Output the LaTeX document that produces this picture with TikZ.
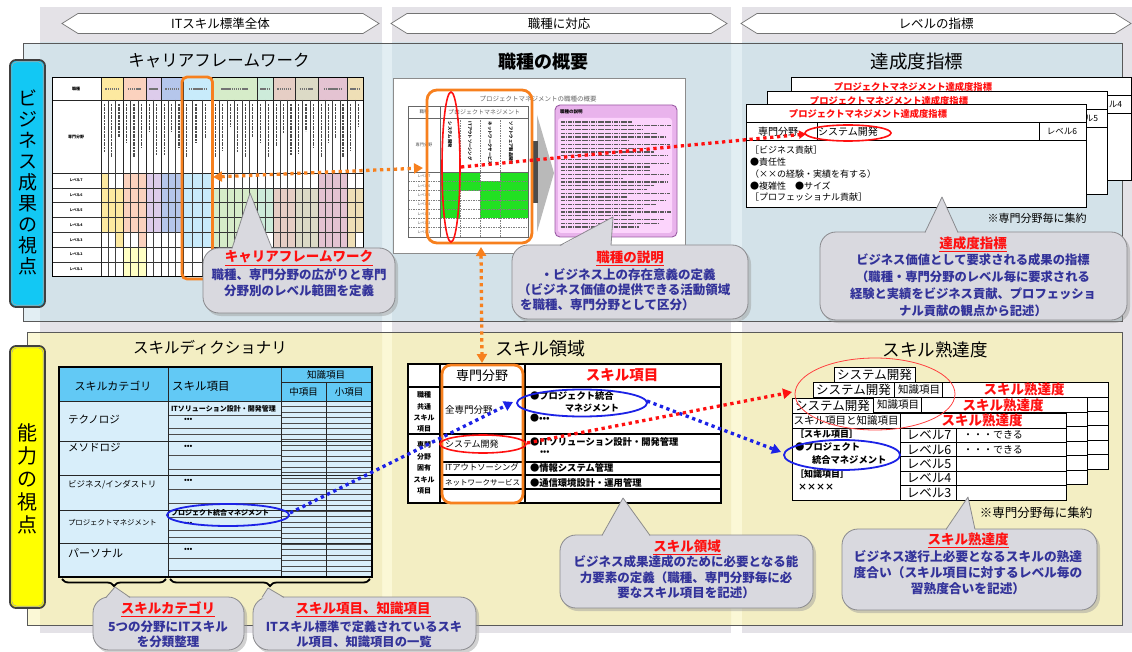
\documentclass[tikz,border=0pt]{standalone}
\usepackage{fontspec}
\setmainfont{Noto Sans CJK JP}
\usetikzlibrary{arrows.meta,decorations.pathreplacing,calc}
\definecolor{colgray}{HTML}{E4E2E7}
\definecolor{pblueL}{HTML}{E2EEF3}
\definecolor{pblueD}{HTML}{D3E2E9}
\definecolor{pyelL}{HTML}{FBF8D6}
\definecolor{pyelD}{HTML}{F3EEC3}
\definecolor{labcyan}{HTML}{12C8F4}
\definecolor{labyel}{HTML}{FFFF00}
\definecolor{calfill}{HTML}{D9D9DF}
\definecolor{calline}{HTML}{8A8A8E}
\definecolor{caltext}{HTML}{33339A}
\definecolor{orng}{HTML}{F7801E}
\definecolor{rd}{HTML}{FF1010}
\definecolor{bl}{HTML}{1C22E6}
\definecolor{grn}{HTML}{22E022}
\definecolor{pinkout}{HTML}{E9B3EC}
\definecolor{pinkin}{HTML}{FCD4FC}
\definecolor{purp}{HTML}{9A5BA3}
\definecolor{hdrblue}{HTML}{62C9F5}
\definecolor{bodyblue}{HTML}{D8EEFA}
\definecolor{cyel}{HTML}{FDE9A0}
\definecolor{csal}{HTML}{FBD2BE}
\definecolor{clav}{HTML}{DDCCEB}
\definecolor{cblu}{HTML}{B5C6EB}
\definecolor{clbl}{HTML}{C8EBFB}
\definecolor{cgrn}{HTML}{D6ECC9}
\definecolor{ctea}{HTML}{CDEBDA}
\definecolor{cbrn}{HTML}{E6CEC5}
\definecolor{ckha}{HTML}{DCDAC6}
\definecolor{cmau}{HTML}{E4C3D2}
\definecolor{ctan}{HTML}{EFDFB6}
\definecolor{cly}{HTML}{FFFFC4}
\newcommand{\fsz}[1]{\fontsize{#1}{#1}\selectfont}
\tikzset{
  every node/.style={inner sep=0pt,outer sep=0pt},
  ttl/.style={font=\fsz{17}},
  ctext/.style={align=center,text=caltext,font=\fontsize{12.5}{15.5}\selectfont\bfseries},
  ctitle/.style={text=rd,font=\fsz{13.5}\bfseries},
  dotline/.style={line width=3.3pt,dash pattern=on 3.3pt off 3.6pt},
  tipT/.style={-{Triangle[length=9pt,width=10pt]}},
}
% callout: x1 y1 x2 y2 tipx tipy basex1 basex2
\newcommand{\bubble}[8]{%
  \fill[black!40,opacity=.45,rounded corners=16] (#1+2,#2+3) rectangle (#3+3,#4+3);
  \filldraw[fill=calfill,draw=calline,line width=.8,rounded corners=16] (#1,#2) rectangle (#3,#4);
  \fill[calfill] (#7,#2+1.5) -- (#5,#6) -- (#8,#2+1.5) -- cycle;
  \draw[calline,line width=.8,line join=round] (#7,#2+.4) -- (#5,#6) -- (#8,#2+.4);
}
% chevron header: name x1 x2 y text
\newcommand{\chev}[5]{%
  \filldraw[fill=white,draw=black!55,line width=.7] (#2,#4) -- (#2+16,#4-10) -- (#3-16,#4-10) -- (#3,#4) -- (#3-16,#4+10) -- (#2+16,#4+10) -- cycle;
  \node[font=\fsz{12.5}] (#1) at ({(#2+#3)/2},#4) {#5};
}
% achievement card: name x0 y0 level
\newcommand{\tcard}[4]{%
  \filldraw[fill=white,draw=black,line width=.9] (#2,#3) rectangle (#2+340,#3+103);
  \draw[black,line width=.9] (#2,#3+18) -- (#2+340,#3+18) (#2,#3+36) -- (#2+340,#3+36) (#2+71,#3+18) -- (#2+71,#3+36) (#2+293,#3+18) -- (#2+293,#3+36);
  \node[text=rd,font=\fsz{9.3}\bfseries] (#1t) at (#2+122,#3+9.5) {プロジェクトマネジメント達成度指標};
  \node[font=\fsz{8.5}] (#1l) at (#2+316,#3+27.5) {#4};
}
% skill proficiency card: name x0 y0 anchor xoff headertext
\newcommand{\scard}[6]{%
  \filldraw[fill=white,draw=black,line width=.9] (#2,#3+15) rectangle (#2+274,#3+102);
  \draw[black,line width=.9] (#2,#3+30) -- (#2+274,#3+30) (#2+108,#3+15) -- (#2+108,#3+102) (#2+164,#3+30) -- (#2+164,#3+102);
  \foreach \kk in {1,...,4} \draw[black,line width=.9] (#2+108,{#3+30+14.4*\kk}) -- (#2+274,{#3+30+14.4*\kk});
  \node[font=\fsz{10.5},anchor=#4] (#1h) at (#2+#5,#3+22.5) {#6};
  \node[text=rd,font=\fsz{13.5}\bfseries] (#1r) at (#2+190,#3+22.5) {スキル熟達度};
  \filldraw[fill=white,draw=black,line width=.9] (#2,#3) rectangle (#2+81,#3+15);
  \node[font=\fsz{12.5}] (#1g) at (#2+40.5,#3+7.5) {システム開発};
}
\begin{document}
\begin{tikzpicture}[x=1pt,y=-1pt]
\useasboundingbox (0,0) rectangle (1132,652);
\fill[white] (0,0) rectangle (1132,652);
% column backgrounds
\fill[colgray] (40,7) rectangle (382,633);
\fill[colgray] (392,7) rectangle (731,633);
\fill[colgray] (742,7) rectangle (1132,633);
% headers
\chev{h1}{62}{379}{23.5}{ITスキル標準全体}
\chev{h2}{391}{727}{23.5}{職種に対応}
\chev{h3}{741}{1131}{23.5}{レベルの指標}
% top panel
\fill[pblueL] (23,43) rectangle (1122,321);
\begin{scope}
  \clip (23,43) rectangle (1122,321);
  \fill[pblueD] (40,0) rectangle (382,700) (392,0) rectangle (731,700) (742,0) rectangle (1132,700);
\end{scope}
\draw[black!65,line width=.8] (23,43) rectangle (1122,321);
% bottom panel
\fill[pyelL] (27,332) rectangle (1122,625);
\begin{scope}
  \clip (27,332) rectangle (1122,625);
  \fill[pyelD] (40,0) rectangle (382,700) (392,0) rectangle (731,700) (742,0) rectangle (1132,700);
\end{scope}
\draw[black!65,line width=.8] (27,332) rectangle (1122,625);
% left labels
\filldraw[fill=labcyan,draw=black!75,line width=1.8,rounded corners=6] (10,60) rectangle (45,307);
\draw[black!35,line width=.6,rounded corners=5] (11.8,61.8) rectangle (43.2,305.2);
\node[align=center,font=\fontsize{19}{21}\selectfont] (lab1) at (27.5,182) {ビ\\ジ\\ネ\\ス\\成\\果\\の\\視\\点};
\filldraw[fill=labyel,draw=black!75,line width=1.8,rounded corners=6] (10,346) rectangle (45,608);
\draw[black!35,line width=.6,rounded corners=5] (11.8,347.8) rectangle (43.2,606.2);
\node[align=center,font=\fontsize{20}{23}\selectfont] (lab2) at (27.5,479) {能\\力\\の\\視\\点};
% section titles
\node[ttl,font=\fsz{16.5}] (t1) at (219,61) {キャリアフレームワーク};
\node[font=\fsz{18}\bfseries] (t2) at (543,62) {職種の概要};
\node[font=\fsz{18.5}] (t3) at (917,62) {達成度指標};
\node[font=\fsz{15.5}] (t4) at (210,348) {スキルディクショナリ};
\node[font=\fsz{18}] (t5) at (540,349) {スキル領域};
\node[font=\fsz{17.5}] (t6) at (935,350) {スキル熟達度};

% ===== career framework table =====
\fill[white] (52,78) rectangle (363,277);
\foreach \a/\b/\cc in {101/123/cyel,123/146/csal,146/161/clav,161/183/cblu,183/212/clbl,212/257/cgrn,257/273/ctea,273/295/cbrn,295/318/ckha,318/347/cmau,347/363/ctan}
  \fill[\cc] (\a,78) rectangle (\b,100);
\foreach \a/\b/\p/\q/\cc in {101/108.3/1/4/cyel,108.3/115.7/2/4/cyel,115.7/123/2/5/cyel,123/138.3/1/4/csal,138.3/146/1/5/csal,123/146/6/7/cly,146/161/1/4/clav,161/183/1/4/cblu,183/212/1/5/clbl,212/257/2/5/cgrn,257/273/2/4/ctea,273/295/2/5/cbrn,295/318/2/5/ckha,318/347/1/5/cmau,347/355/2/5/ctan,355/363/2/4/ctan}
  \fill[\cc] (\a,{173+14.857*(\p-1)}) rectangle (\b,{173+14.857*\q});
\foreach \kk in {1,...,6} \draw[black!80,line width=.6] (52,{173+14.857*\kk}) -- (363,{173+14.857*\kk});
\draw[black!85,line width=.8] (52,100) -- (363,100) (52,173) -- (363,173);
\foreach \x in {108.3,115.7,130.7,138.3,153.5,168.3,175.7,192.7,202.3,219.5,227,234.5,242,249.5,265,280.3,287.7,302.7,310.3,325.25,332.5,339.75,355}
  \draw[black!75,line width=.45] (\x,100) -- (\x,277);
\foreach \x in {101,123,146,161,183,212,257,273,295,318,347}
  \draw[black!85,line width=.7] (\x,78) -- (\x,277);
\draw[black,line width=1] (52,78) rectangle (363,277);
\foreach \x [count=\i] in {101,108.3,115.7,123,130.7,138.3,146,153.5,161,168.3,175.7,183,192.7,202.3,212,219.5,227,234.5,242,249.5,257,265,273,280.3,287.7,295,302.7,310.3,318,325.25,332.5,339.75,347,355}
  \draw[black!70,line width=1.3,dash pattern=on 2pt off .7pt] (\x+3.2,104) -- (\x+3.2,{126+32*abs(sin(\i*53))});
\foreach \a/\b in {101/123,123/146,146/161,161/183,183/212,212/257,257/273,273/295,295/318,318/347,347/363}
  \draw[black!55,line width=1.3,dash pattern=on 1.5pt off .6pt] ({(\a+\b)/2-0.3*(\b-\a)},89) -- ({(\a+\b)/2+0.3*(\b-\a)},89);
\node[font=\fsz{4}\bfseries] (cf1) at (76,89) {職種};
\node[font=\fsz{4}\bfseries] (cf2) at (76,137) {専門分野};
\foreach \lv [count=\i] in {7,6,5,4,3,2,1}
  \node[font=\fsz{3.6}\bfseries] at (76,{173+14.857*(\i-0.5)}) {レベル\lv};
\draw[orng,line width=2.8,rounded corners=5] (182,77) rectangle (212.5,279);

% ===== job overview document =====
\filldraw[fill=white,draw=black!45,line width=.6] (393,78) rectangle (685,253);
\node[font=\fsz{6.5},text=black!60] (doct) at (538,99) {プロジェクトマネジメントの職種の概要};
\foreach \a/\b/\p/\q in {440/460/1/5,460/480/1/2,480/500/2/5,500/528/1/5}
  \fill[grn] (\a,{172+9.286*(\p-1)}) rectangle (\b,{172+9.286*\q});
\foreach \kk in {1,...,6} \draw[black!50,line width=.5,dash pattern=on 1.5pt off 1pt] (408,{172+9.286*\kk}) -- (528,{172+9.286*\kk});
\foreach \x in {460,480,500} \draw[black!50,line width=.5,dash pattern=on 1.5pt off 1pt] (\x,118) -- (\x,237);
\draw[black!60,line width=.7] (408,106) rectangle (528,237) (408,118) -- (528,118) (408,172) -- (528,172) (440,106) -- (440,237);
\node[font=\fsz{4.5},text=black!70] (dj) at (424,112) {職種};
\node[font=\fsz{6},text=black!60] (dpm) at (484,112) {プロジェクトマネジメント};
\node[font=\fsz{4.2},text=black!70] (dsp) at (424,145) {専門分野};
\node[font=\fsz{4.3}\bfseries,rotate=-90,anchor=west] (dv1) at (450,122) {システム開発};
\node[font=\fsz{4.3}\bfseries,rotate=-90,anchor=west] (dv2) at (470,122) {ITアウトソーシング};
\node[font=\fsz{4.3}\bfseries,rotate=-90,anchor=west] (dv3) at (490,122) {ネットワークサービス};
\node[font=\fsz{4.3}\bfseries,rotate=-90,anchor=west] (dv4) at (511,122) {ソフトウェア製品開発};
\foreach \lv [count=\i] in {7,6,5,4,3,2,1}
  \node[font=\fsz{3.6},text=black!70] at (424,{172+9.286*(\i-0.5)}) {レベル\lv};
\fill[gray!55] (537,115) -- (554,173) -- (537,232) -- cycle;
\fill[black!70] (533,141) rectangle (537.5,203);
\filldraw[fill=pinkout,draw=purp,line width=.9,rounded corners=5] (555,105) rectangle (677,237);
\fill[pinkin,rounded corners=3] (558,118) rectangle (672,233);
\node[font=\fsz{4.5}\bfseries,anchor=west] (dex) at (560,112) {職種の説明};
\foreach \i in {0,...,28} {
  \pgfmathsetmacro\len{60+50*abs(sin(\i*71+13))}
  \draw[black!65,line width=1.1,dash pattern=on 1.8pt off .5pt] (561,{122+3.75*\i}) -- ({561+\len},{122+3.75*\i});
}
\draw[orng,line width=2.8,rounded corners=10] (427,90) rectangle (532,243);
\draw[rd,line width=1.6] (451,167) ellipse [x radius=9,y radius=75];

% ===== achievement indicator cards =====
\tcard{ca}{791}{77}{レベル4}
\tcard{cb}{767}{91}{レベル5}
\tcard{cc}{746}{104}{レベル6}
\node[anchor=west,font=\fsz{10}] (tsp) at (758,131.5) {専門分野};
\node[font=\fsz{10}] (tsd) at (848,131.5) {システム開発};
\node[anchor=west,font=\fsz{9}] (tb1) at (750,150) {［ビジネス貢献］};
\node[anchor=west,font=\fsz{9}] (tb2) at (750,162) {●責任性};
\node[anchor=west,font=\fsz{9}] (tb3) at (750,174) {（××の経験・実績を有する）};
\node[anchor=west,font=\fsz{9}] (tb4) at (750,186) {●複雑性　●サイズ};
\node[anchor=west,font=\fsz{9}] (tb5) at (750,197.5) {［プロフェッショナル貢献］};
\draw[rd,line width=1.6] (848,133) ellipse [x radius=43,y radius=8];
\node[font=\fsz{11}] (tnote) at (1037,218) {※専門分野毎に集約};

% ===== skill dictionary =====
\fill[bodyblue] (59,367) rectangle (372,577);
\fill[hdrblue] (59,367) rectangle (372,401);
\foreach \kk in {1,...,31} \draw[black!70,line width=.45] (281,{401+5.5*\kk}) -- (372,{401+5.5*\kk});
\foreach \y in {415,428,434,455,469,489,503,517,530,537,558,570} \draw[black!70,line width=.45] (168,\y) -- (281,\y);
\foreach \y in {401,441,475,510,543} \draw[black!85,line width=.8] (59,\y) -- (372,\y);
\draw[black!85,line width=.8] (281,382) -- (372,382) (326,382) -- (326,577) (168,367) -- (168,577) (281,367) -- (281,577);
\draw[black,line width=2] (59,367) rectangle (372,577);
\node[font=\fsz{11}] (sd1) at (113,386) {スキルカテゴリ};
\node[anchor=west,font=\fsz{11.5}] (sd2) at (172,386) {スキル項目};
\node[font=\fsz{9.5}] (sd3) at (326,375) {知識項目};
\node[font=\fsz{9.5}] (sd4) at (303.5,392) {中項目};
\node[font=\fsz{9.5}] (sd5) at (349,392) {小項目};
\node[anchor=west,font=\fsz{10.5}] (sc1) at (68,420) {テクノロジ};
\node[anchor=west,font=\fsz{10.5}] (sc2) at (68,448) {メソドロジ};
\node[anchor=west,font=\fsz{8.5}] (sc3) at (68,485) {ビジネス/インダストリ};
\node[anchor=west,font=\fsz{7.4}] (sc4) at (68,523) {プロジェクトマネジメント};
\node[anchor=west,font=\fsz{11}] (sc5) at (68,553) {パーソナル};
\node[anchor=west,font=\fsz{7}\bfseries] (si1) at (171,409) {ITソリューション設計・開発管理};
\node[anchor=west,font=\fsz{7}\bfseries] (si2) at (171,513) {プロジェクト統合マネジメント};
\foreach \y in {420,447,481,524,550} \node[anchor=west,font=\fsz{7}\bfseries] at (184,\y) {•••};
\draw[bl,line width=1.8] (228,515) ellipse [x radius=61,y radius=11];
\draw[decorate,decoration={brace,amplitude=7pt},line width=1.8] (166,579) -- (62,579);
\draw[decorate,decoration={brace,amplitude=7pt},line width=1.8] (370,579) -- (170,579);

% ===== skill domain table =====
\filldraw[fill=white,draw=black,line width=2.2] (408,364) rectangle (721,503);
\draw[black,line width=1.2] (408,387) -- (721,387) (408,434) -- (721,434) (440,364) -- (440,503) (525,364) -- (525,503) (440,462) -- (721,462) (440,475) -- (721,475) (440,489) -- (721,489);
\node[align=center,font=\fontsize{7}{11.3}\selectfont\bfseries] (sk1) at (424,412) {職種\\共通\\スキル\\項目};
\node[align=center,font=\fontsize{7}{11.5}\selectfont\bfseries] (sk2) at (424,468) {専門\\分野\\固有\\スキル\\項目};
\node[font=\fsz{13}] (sk3) at (482,375.5) {専門分野};
\node[text=rd,font=\fsz{14.5}\bfseries] (sk4) at (622,375.5) {スキル項目};
\node[anchor=west,font=\fsz{9.5}] (sk5) at (445,410) {全専門分野};
\node[anchor=west,font=\fsz{9}] (sk6) at (445,444) {システム開発};
\node[anchor=west,font=\fsz{8.3}] (sk7) at (445,467) {ITアウトソーシング};
\node[anchor=west,font=\fsz{7.5}] (sk8) at (445,483) {ネットワークサービス};
\node[anchor=west,font=\fsz{9.3}\bfseries] (sk9) at (530,396) {●プロジェクト統合};
\node[anchor=west,font=\fsz{9}\bfseries] (sk10) at (565,408) {マネジメント};
\node[anchor=west,font=\fsz{9}\bfseries] (sk11) at (530,418) {●•••};
\node[anchor=west,font=\fsz{9.3}\bfseries] (sk12) at (530,442) {●ITソリューション設計・開発管理};
\node[anchor=west,font=\fsz{8}\bfseries] (sk13) at (540,453) {•••};
\node[anchor=west,font=\fsz{9.3}\bfseries] (sk14) at (530,467.5) {●情報システム管理};
\node[anchor=west,font=\fsz{9.3}\bfseries] (sk15) at (530,482.5) {●通信環境設計・運用管理};
\draw[orng,line width=2.8,rounded corners=9] (442,365) rectangle (523,503);
\draw[rd,line width=1.6] (483,444) ellipse [x radius=43,y radius=9];
\draw[bl,line width=1.8] (582,403) ellipse [x radius=65,y radius=13.5];

% ===== skill proficiency cards =====
\scard{pa}{834}{367}{east}{106}{知識項目}
\scard{pb}{813}{382.5}{east}{106}{知識項目}
\scard{pc}{792}{398}{center}{54}{スキル項目と知識項目}
\foreach \lv [count=\i] in {7,6,5,4,3}
  \node[font=\fsz{12.5}] at (929,{428+14.4*(\i-0.5)}) {レベル\lv};
\node[anchor=west,font=\fsz{10}] (pd1) at (963,435.2) {・・・できる};
\node[anchor=west,font=\fsz{10}] (pd2) at (963,449.6) {・・・できる};
\node[anchor=west,font=\fsz{9}\bfseries] (pl1) at (795,434) {［スキル項目］};
\node[anchor=west,font=\fsz{9.3}\bfseries] (pl2) at (795,447) {●プロジェクト};
\node[anchor=west,font=\fsz{9.3}\bfseries] (pl3) at (812,460) {統合マネジメント};
\node[anchor=west,font=\fsz{9}\bfseries] (pl4) at (795,474) {［知識項目］};
\node[anchor=west,font=\fsz{9}\bfseries] (pl5) at (798,487) {××××};
\draw[rd!80,line width=.8] (875,394) ellipse [x radius=80,y radius=36];
\draw[bl,line width=1.8] (842,455) ellipse [x radius=58,y radius=15];
\node[font=\fsz{12.5}] (pnote) at (1036,513) {※専門分野毎に集約};

% ===== callouts =====
\bubble{203}{248}{395}{313}{250}{193}{232}{272}
\node[ctitle] (k1) at (299,258) {\underline{キャリアフレームワーク}};
\node[ctext] (k1b) at (299,282.5) {職種、専門分野の広がりと専門\\分野別のレベル範囲を定義};
\bubble{512}{245}{748}{319}{613}{217}{560}{611}
\node[ctitle] (k2) at (630,258) {\underline{職種の説明}};
\node[ctext] (k2b) at (628,274.5) {・ビジネス上の存在意義の定義};
\node[ctext,anchor=west] (k2c) at (518,289.5) {（ビジネス価値の提供できる活動領域};
\node[ctext,anchor=west] (k2d) at (520,305) {を職種、専門分野として区分）};
\bubble{820}{232}{1127}{320}{942}{197}{925}{958}
\node[ctitle] (k3) at (973,244) {\underline{達成度指標}};
\node[ctext,font=\fontsize{12.3}{16.7}\selectfont\bfseries] (k3b) at (973,285.3) {ビジネス価値として要求される成果の指標\\（職種・専門分野のレベル毎に要求される\\経験と実績をビジネス貢献、プロフェッショ\\ナル貢献の観点から記述）};
\bubble{93}{597}{244}{650}{115}{587}{106}{130}
\node[ctitle] (k4) at (168,609.5) {\underline{スキルカテゴリ}};
\node[ctext,font=\fontsize{12.5}{15}\selectfont\bfseries] (k4b) at (168,634.5) {5つの分野にITスキル\\を分類整理};
\bubble{253}{597}{476}{650}{268}{588}{262}{284}
\node[ctitle] (k5) at (363,609.5) {\underline{スキル項目、知識項目}};
\node[ctext,font=\fontsize{12.3}{15}\selectfont\bfseries] (k5b) at (364,634.5) {ITスキル標準で定義されているスキ\\ル項目、知識項目の一覧};
\bubble{560}{535}{813}{608}{623}{498}{602}{650}
\node[ctitle] (k6) at (687,547) {\underline{スキル領域}};
\node[ctext] (k6b) at (686,577.5) {ビジネス成果達成のために必要となる能\\力要素の定義（職種、専門分野毎に必\\要なスキル項目を記述）};
\bubble{842}{529}{1097}{610}{968}{497}{946}{975}
\node[ctitle] (k7) at (968,540) {\underline{スキル熟達度}};
\node[ctext,font=\fontsize{12.7}{16}\selectfont\bfseries] (k7b) at (968,573) {ビジネス遂行上必要となるスキルの熟達\\度合い（スキル項目に対するレベル毎の\\習熟度合いを記述）};

% ===== dotted connectors =====
\coordinate (o1a) at (213,177);
\coordinate (o1b) at (423,168);
\coordinate (o2a) at (481,247);
\coordinate (o2b) at (482,363);
\coordinate (r1a) at (461,167);
\coordinate (r1b) at (806,134);
\coordinate (b1a) at (290,513);
\coordinate (b1b) at (513,402);
\coordinate (b2a) at (647,401);
\coordinate (b2b) at (781,452);
\coordinate (r2a) at (527,443);
\coordinate (r2b) at (792,392);
\draw[orng,dotline,{Triangle[length=9pt,width=10pt]}-{Triangle[length=9pt,width=10pt]}] (o1a) -- (o1b);
\draw[orng,dotline,{Triangle[length=9pt,width=10pt]}-{Triangle[length=9pt,width=10pt]}] (o2a) -- (o2b);
\draw[rd,dotline,-{Triangle[length=7pt,width=8pt]}] (r1a) -- (r1b);
\draw[bl,dotline,tipT] (b1a) -- (b1b);
\draw[bl,dotline,tipT] (b2a) -- (b2b);
\draw[rd,dotline,tipT] (r2a) -- (r2b);
\end{tikzpicture}
\end{document}
